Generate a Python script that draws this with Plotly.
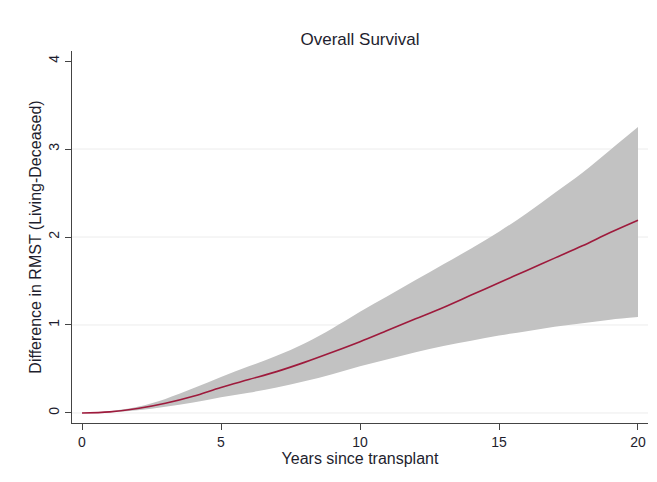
import plotly.graph_objects as go

years = list(range(0, 21))
rmst_diff = [0.0, 0.012, 0.05, 0.11, 0.19, 0.29, 0.38, 0.47, 0.575, 0.69, 0.81,
             0.94, 1.07, 1.20, 1.34, 1.48, 1.62, 1.76, 1.90, 2.05, 2.19]
upper_ci = [0.0, 0.02, 0.07, 0.16, 0.28, 0.41, 0.53, 0.65, 0.79, 0.96, 1.15,
            1.33, 1.51, 1.69, 1.87, 2.06, 2.27, 2.50, 2.73, 2.99, 3.25]
lower_ci = [0.0, 0.008, 0.03, 0.07, 0.12, 0.18, 0.23, 0.29, 0.36, 0.44, 0.53,
            0.61, 0.69, 0.76, 0.82, 0.88, 0.93, 0.98, 1.02, 1.06, 1.09]
x_ticks = [0, 5, 10, 15, 20]
y_ticks = [0, 1, 2, 3, 4]
grid_y = [0, 1, 2, 3]

FONT = "Liberation Sans, Arial, sans-serif"
TXT = "#1e1e2e"

fig = go.Figure()
fig.add_trace(go.Scatter(x=years, y=upper_ci, mode="lines",
                         line=dict(width=0, color="#c0c0c0", shape="spline"),
                         showlegend=False, hoverinfo="skip"))
fig.add_trace(go.Scatter(x=years, y=lower_ci, mode="lines",
                         line=dict(width=0, color="#c0c0c0", shape="spline"),
                         fill="tonexty", fillcolor="#c2c2c2",
                         showlegend=False, hoverinfo="skip"))
fig.add_trace(go.Scatter(x=years, y=rmst_diff, mode="lines",
                         line=dict(width=1.6, color="#9e1a3c", shape="spline"),
                         showlegend=False))

shapes = []
for g in grid_y:
    shapes.append(dict(type="line", xref="paper", yref="y", x0=0, x1=1,
                       y0=g, y1=g, line=dict(color="#ececec", width=1),
                       layer="below"))

# page body has an 8px margin, so the figure is offset by 8px
fig.update_layout(
    width=649, height=474,
    margin=dict(l=64, r=9, t=43, b=59),
    paper_bgcolor="white", plot_bgcolor="white",
    font=dict(family=FONT, size=14, color=TXT),
    title=dict(text="Overall Survival", x=0.5, xref="paper",
               y=1 - 31/474, yanchor="middle",
               font=dict(family=FONT, size=17, color=TXT)),
    shapes=shapes,
    xaxis=dict(range=[-0.36, 20.36], tickvals=x_ticks, showgrid=False,
               zeroline=False, showline=True, linecolor="#444", linewidth=1.2,
               ticks="outside", ticklen=6, tickcolor="#444",
               tickfont=dict(size=14, color=TXT),
               title=dict(text="Years since transplant", standoff=0,
                          font=dict(size=16, color=TXT))),
    yaxis=dict(range=[-0.114, 4.114], tickvals=y_ticks, showgrid=False,
               zeroline=False, showline=True, linecolor="#444", linewidth=1.2,
               ticks="outside", ticklen=6, tickcolor="#444", tickangle=-90,
               tickfont=dict(size=14, color=TXT),
               title=dict(text="Difference in RMST (Living-Deceased)", standoff=0,
                          font=dict(size=16, color=TXT))),
)

fig.write_html("out.html")
